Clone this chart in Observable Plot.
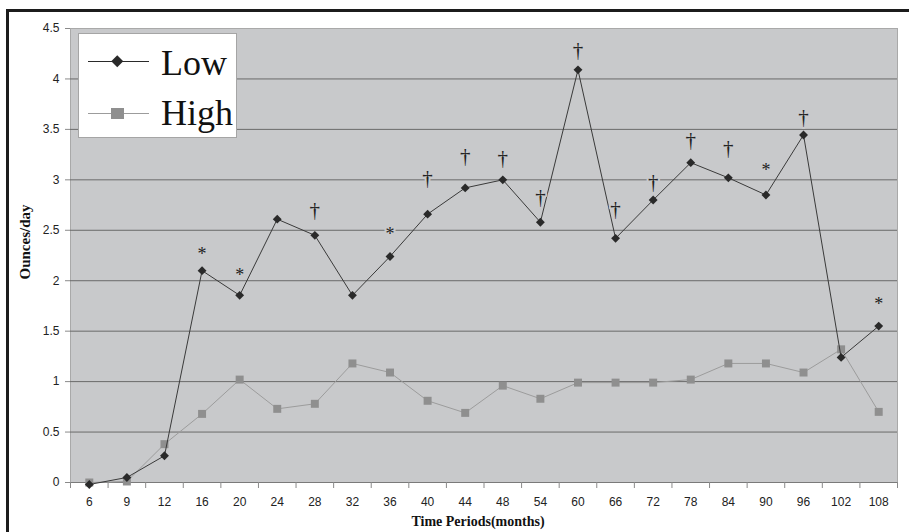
<!DOCTYPE html>
<html>
<head>
<meta charset="utf-8">
<script src="https://cdn.jsdelivr.net/npm/d3@7"></script>
<script src="https://cdn.jsdelivr.net/npm/@observablehq/plot@0.6"></script>
<style>
  html, body { margin: 0; padding: 0; background: #fff; }
  #wrap { position: relative; width: 909px; height: 532px; overflow: hidden; }
  #border { position: absolute; left: 6px; top: 9px; width: 920px; height: 560px;
            border-left: 3px solid #1c1c1c; border-top: 3px solid #1c1c1c; box-sizing: border-box; pointer-events: none; }
  .ytitle { position: absolute; left: 25px; top: 242px; transform: translate(-50%, -50%) rotate(-90deg);
            font: bold 15px "Liberation Serif", serif; color: #111; white-space: nowrap; }
  .xtitle { position: absolute; left: 478px; top: 514px; transform: translateX(-50%);
            font: bold 14px "Liberation Serif", serif; color: #111; white-space: nowrap; line-height: 16px; }
  .legend { position: absolute; left: 78px; top: 33px; width: 159px; height: 105px; box-sizing: border-box;
            background: #fff; border: 1.5px solid #a5a5a5; }
  .legend .row { position: absolute; left: 0; height: 50px; width: 100%; }
  .legend svg { position: absolute; left: 8px; top: 0; }
  .legend span { position: absolute; left: 82px; font: 36px "Liberation Serif", serif; color: #111; line-height: 1; }
</style>
</head>
<body>
<div id="wrap">
  <div id="chart"></div>
  <div class="ytitle">Ounces/day</div>
  <div class="xtitle">Time Periods(months)</div>
  <div id="legend" class="legend"></div>
  <div id="border"></div>
</div>
<script>
const periods = ["6","9","12","16","20","24","28","32","36","40","44","48","54","60","66","72","78","84","90","96","102","108"];
const lowValues  = [-0.02,0.05,0.265,2.10,1.855,2.61,2.45,1.855,2.24,2.66,2.92,3.00,2.58,4.09,2.42,2.80,3.17,3.02,2.85,3.445,1.24,1.55];
const highValues = [0.00,0.01,0.38,0.68,1.02,0.73,0.78,1.18,1.09,0.81,0.69,0.96,0.83,0.99,0.99,0.99,1.02,1.18,1.18,1.09,1.32,0.70];
const yTicks = [0,0.5,1,1.5,2,2.5,3,3.5,4,4.5];
const markPeriods = ["16","20","28","36","40","44","48","54","60","66","72","78","84","90","96","108"];
const markSymbols = ["*","*","\u2020","*","\u2020","\u2020","\u2020","\u2020","\u2020","\u2020","\u2020","\u2020","\u2020","*","\u2020","*"];
const markLevels  = [2.30,2.09,2.70,2.50,3.02,3.23,3.21,2.83,4.28,2.71,2.98,3.39,3.31,3.13,3.62,1.81];

const BG = "#c8c9cb";
const lowData = periods.map((p, i) => ({i, v: lowValues[i]}));
const highData = periods.map((p, i) => ({i, v: highValues[i]}));
const marks = markPeriods.map((p, k) => ({i: periods.indexOf(p), v: markLevels[k], s: markSymbols[k]}));

const chart = Plot.plot({
  width: 909,
  height: 545,
  marginLeft: 70,
  marginRight: 12,
  marginTop: 28,
  marginBottom: 63,
  style: {fontFamily: "'Liberation Sans', Arial, sans-serif", fontSize: "12px", color: "#222", background: "transparent"},
  x: {type: "linear", domain: [-0.5, periods.length - 0.5], axis: null},
  y: {domain: [0, 4.5], axis: null},
  marks: [
    Plot.frame({fill: BG, stroke: "#a9a9a9"}),
    Plot.ruleY(yTicks.filter(v => v > 0 && v < 4.5), {stroke: "#6a6a6a", strokeWidth: 1}),
    Plot.ruleY([0], {stroke: "#7a7a7a", strokeWidth: 1}),
    Plot.axisY({ticks: yTicks, tickFormat: d => String(d), tickSize: 5, tickPadding: 6, stroke: "#8a8a8a", fill: "#222", fontSize: 12, label: null}),
    Plot.axisX({ticks: d3.range(periods.length), tickFormat: i => periods[i], tickSize: 0, tickPadding: 15, fill: "#222", fontSize: 12, label: null}),
    Plot.axisX({ticks: d3.range(periods.length + 1).map(k => k - 0.5), tickFormat: () => "", tickSize: 6, stroke: "#8a8a8a", label: null}),
    Plot.line(highData, {x: "i", y: "v", stroke: "#9c9c9c", strokeWidth: 1}),
    Plot.dot(highData, {x: "i", y: "v", symbol: "square", r: 4.5, fill: "#8f8f8f", stroke: "none"}),
    Plot.line(lowData, {x: "i", y: "v", stroke: "#3a3a3a", strokeWidth: 1}),
    Plot.dot(lowData, {x: "i", y: "v", symbol: "diamond2", r: 4, fill: "#2a2a2a", stroke: "none"}),
    Plot.text(marks.filter(d => d.s !== "*"), {x: "i", y: "v", text: "s", fontFamily: "'Liberation Serif', serif", fontSize: 21,
      fill: "#222", stroke: BG, strokeWidth: 4, paintOrder: "stroke", lineAnchor: "middle"}),
    Plot.text(marks.filter(d => d.s === "*"), {x: "i", y: "v", text: "s", fontFamily: "'Liberation Serif', serif", fontSize: 18,
      fill: "#222", stroke: BG, strokeWidth: 4, paintOrder: "stroke", lineAnchor: "middle", dy: 4})
  ]
});
document.getElementById("chart").appendChild(chart);

// legend
const legendItems = [
  {name: "Low", color: "#2a2a2a", line: "#2a2a2a", symbol: "diamond"},
  {name: "High", color: "#8f8f8f", line: "#9c9c9c", symbol: "square"}
];
const leg = document.getElementById("legend");
legendItems.forEach((it, k) => {
  const row = document.createElement("div");
  row.className = "row";
  row.style.top = (k * 51 + 3) + "px";
  const shape = it.symbol === "diamond"
    ? `<rect x="26" y="20" width="8.5" height="8.5" fill="${it.color}" transform="rotate(45 30.25 24.25)"/>`
    : `<rect x="24" y="20" width="13" height="11" fill="${it.color}"/>`;
  row.innerHTML = `<svg width="64" height="50"><line x1="1" x2="62" y1="${it.symbol === "diamond" ? 24.5 : 25.5}" y2="${it.symbol === "diamond" ? 24.5 : 25.5}" stroke="${it.line}" stroke-width="1.2"/>${shape}</svg><span style="top:${k === 0 ? 8 : 7}px">${it.name}</span>`;
  leg.appendChild(row);
});
</script>
</body>
</html>
